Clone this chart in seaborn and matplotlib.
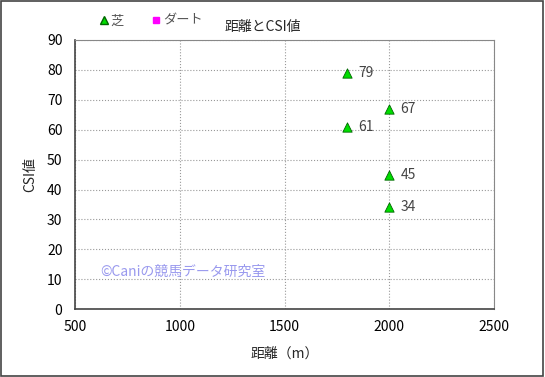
import pandas as pd
import matplotlib.pyplot as plt
from matplotlib.lines import Line2D
import seaborn as sns

# 芝 series (dart series has no points)
turf_dist = [1800, 2000, 1800, 2000, 2000]
turf_csi = [79, 67, 61, 45, 34]
dirt_dist = []
dirt_csi = []

x_ticks = [500, 1000, 1500, 2000, 2500]
y_ticks = [0, 10, 20, 30, 40, 50, 60, 70, 80, 90]

sns.set_style('white')
plt.rcParams['font.family'] = ['Noto Sans CJK JP', 'DejaVu Sans']

fig = plt.figure(figsize=(5.45, 3.77), dpi=100)
ax = fig.add_axes([0.1376, 0.180, 0.769, 0.714])

df = pd.DataFrame({'dist': turf_dist, 'csi': turf_csi})
sns.scatterplot(data=df, x='dist', y='csi', marker='^', s=45, color='#00dd00',
                edgecolor='#006600', linewidth=0.6, ax=ax, zorder=3, legend=False)
if dirt_dist:
    sns.scatterplot(x=dirt_dist, y=dirt_csi, marker='s', color='#ff00ff', ax=ax, legend=False)

for x, y in zip(turf_dist, turf_csi):
    ax.annotate(str(y), (x, y), xytext=(8, 0), textcoords='offset points',
                va='center', ha='left', fontsize=10, color='#444444')

ax.set_xlim(500, 2500)
ax.set_ylim(0, 90)
ax.set_xticks(x_ticks)
ax.set_yticks(y_ticks)
ax.tick_params(axis='both', length=0, labelsize=10, colors='black')
ax.tick_params(axis='x', pad=8)
ax.tick_params(axis='y', pad=9)
ax.grid(True, linestyle=':', color='#999999', linewidth=0.8)
for s in ax.spines.values():
    s.set_color('#888888')
    s.set_linewidth(0.8)
ax.spines['left'].set_color('#444444')
ax.spines['bottom'].set_color('#444444')
ax.spines['left'].set_linewidth(1.2)
ax.spines['bottom'].set_linewidth(1.2)

ax.set_xlabel('距離（m）', fontsize=10, labelpad=9)
ax.set_ylabel('CSI値', fontsize=10, labelpad=7)

fig.text(0.483, 0.928, '距離とCSI値', ha='center', va='center', fontsize=10)

ax.text(0.06, 0.14, '©Caniの競馬データ研究室', transform=ax.transAxes,
        color='#9999ee', fontsize=10, va='center', ha='left')

handles = [
    Line2D([], [], marker='^', linestyle='', color='#00dd00', markeredgecolor='#006600',
           markersize=6, label='芝'),
    Line2D([], [], marker='s', linestyle='', color='#ff00ff', markeredgecolor='#ff00ff',
           markersize=5, label='ダート'),
]
fig.legend(handles=handles, loc='center', bbox_to_anchor=(0.275, 0.944), ncol=2,
           frameon=False, fontsize=9.5, handletextpad=0.0, columnspacing=2.0,
           handlelength=1.0, labelcolor='#555555')

fig.patches.append(plt.Rectangle((0.002, 0.003), 0.995, 0.994, transform=fig.transFigure,
                                 fill=False, edgecolor='#444444', linewidth=1.2))

fig.savefig('out.png', dpi=100)
